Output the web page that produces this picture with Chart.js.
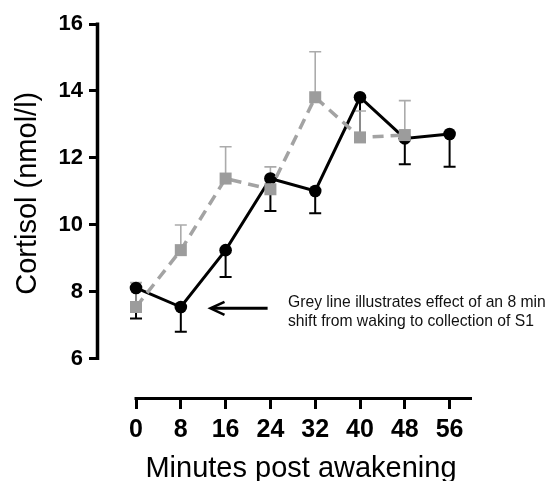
<!DOCTYPE html>
<html>
<head>
<meta charset="utf-8">
<script src="https://cdn.jsdelivr.net/npm/chart.js@4/dist/chart.umd.min.js"></script>
<style>
  html, body { margin: 0; padding: 0; background: #fff; }
  #wrap { width: 547px; height: 481px; }
</style>
</head>
<body>
<div id="wrap"><canvas id="c" width="547" height="481"></canvas></div>
<script>
// ---- data ----
const minutes = [0, 8, 16, 24, 32, 40, 48, 56];
const awakeningMean = [8.11, 7.54, 9.24, 11.38, 11.01, 13.81, 12.58, 12.71];
const awakeningSem  = [0.91, 0.74, 0.80, 0.97, 0.67, 1.20, 0.77, 0.98];
const shiftedMinutes = [0, 8, 16, 24, 32, 40, 48];
const shiftedMean = [7.54, 9.24, 11.38, 11.06, 13.81, 12.61, 12.68];
const shiftedSem  = [0.73, 0.75, 0.95, 0.67, 1.36, 0.79, 1.03];
const xTickValues = [0, 8, 16, 24, 32, 40, 48, 56];
const yTickValues = [6, 8, 10, 12, 14, 16];
const xTitle = 'Minutes post awakening';
const yTitle = 'Cortisol (nmol/l)';
const noteLines = ['Grey line illustrates effect of an 8 min', 'shift from waking to collection of S1'];

const FONT = "'Liberation Sans', Arial, Helvetica, sans-serif";
const GREY = '#a3a3a3';
const GREY_ERR = '#ababab';

const pts = (xs, ys) => xs.map((x, i) => ({ x: x, y: ys[i] }));

const decor = {
  id: 'decor',
  beforeDatasetsDraw(chart) {
    const { ctx } = chart;
    const xs = chart.scales.x, ys = chart.scales.y;
    ctx.save();
    // black error bars (downward)
    ctx.strokeStyle = '#000'; ctx.lineWidth = 2;
    minutes.forEach((m, i) => {
      const px = xs.getPixelForValue(m);
      const p0 = ys.getPixelForValue(awakeningMean[i]);
      const p1 = ys.getPixelForValue(awakeningMean[i] - awakeningSem[i]);
      ctx.beginPath(); ctx.moveTo(px, p0); ctx.lineTo(px, p1);
      ctx.moveTo(px - 6, p1); ctx.lineTo(px + 6, p1); ctx.stroke();
    });
    // grey error bars (upward)
    ctx.strokeStyle = GREY_ERR; ctx.lineWidth = 1.6;
    shiftedMinutes.forEach((m, i) => {
      const px = xs.getPixelForValue(m);
      const p0 = ys.getPixelForValue(shiftedMean[i]);
      const p1 = ys.getPixelForValue(shiftedMean[i] + shiftedSem[i]);
      ctx.beginPath(); ctx.moveTo(px, p0); ctx.lineTo(px, p1);
      ctx.moveTo(px - 6, p1); ctx.lineTo(px + 6, p1); ctx.stroke();
    });
    ctx.restore();
  },
  afterDraw(chart) {
    const { ctx, chartArea } = chart;
    const xs = chart.scales.x, ys = chart.scales.y;
    ctx.save();
    ctx.strokeStyle = '#000';
    ctx.lineCap = 'butt';
    // y axis line
    ctx.lineWidth = 3.5;
    const ax = chartArea.left - 1.5;
    ctx.beginPath();
    ctx.moveTo(ax, ys.getPixelForValue(yTickValues[yTickValues.length - 1]) - 1.5);
    ctx.lineTo(ax, ys.getPixelForValue(yTickValues[0]) + 1.5);
    ctx.stroke();
    // x axis line
    ctx.lineWidth = 3;
    const ay = chartArea.bottom + 1.5;
    ctx.beginPath();
    ctx.moveTo(xs.getPixelForValue(xTickValues[0]) - 1.5, ay);
    ctx.lineTo(xs.getPixelForValue(60), ay);
    ctx.stroke();

    // titles
    ctx.fillStyle = '#000';
    ctx.font = '29px ' + FONT;
    ctx.textAlign = 'center';
    ctx.textBaseline = 'alphabetic';
    const xc = (xs.getPixelForValue(0) + xs.getPixelForValue(60)) / 2;
    ctx.fillText(xTitle, xc - 3, 477);
    ctx.save();
    ctx.translate(36, (ys.getPixelForValue(6) + ys.getPixelForValue(16)) / 2 + 2);
    ctx.rotate(-Math.PI / 2);
    ctx.fillText(yTitle, 0, 0);
    ctx.restore();

    // annotation arrow
    const tipX = xs.getPixelForValue(13.3), tailX = xs.getPixelForValue(23.5);
    const arY = ys.getPixelForValue(7.5);
    ctx.lineWidth = 3;
    ctx.beginPath(); ctx.moveTo(tailX, arY); ctx.lineTo(tipX + 2, arY); ctx.stroke();
    ctx.lineWidth = 2.6;
    ctx.beginPath();
    ctx.moveTo(tipX + 14, arY - 6.5); ctx.lineTo(tipX, arY); ctx.lineTo(tipX + 14, arY + 6.5);
    ctx.stroke();
    // annotation text
    ctx.font = '15.7px ' + FONT;
    ctx.fillStyle = '#111';
    ctx.textAlign = 'left';
    ctx.fillText(noteLines[0], 288, 307);
    ctx.fillText(noteLines[1], 288, 326);
    ctx.restore();
  }
};

new Chart(document.getElementById('c'), {
  type: 'line',
  data: {
    datasets: [
      {
        label: 'Awakening',
        data: pts(minutes, awakeningMean),
        borderColor: '#000',
        backgroundColor: '#000',
        borderWidth: 3,
        pointStyle: 'circle',
        pointRadius: 6.3,
        pointBorderWidth: 0,
        tension: 0,
        order: 2
      },
      {
        label: 'Shifted 8 min',
        data: pts(shiftedMinutes, shiftedMean),
        borderColor: GREY,
        backgroundColor: '#9c9c9c',
        borderWidth: 3.5,
        borderDash: [11, 7],
        pointStyle: 'rect',
        pointRadius: 8.5,
        pointBorderWidth: 0,
        tension: 0,
        order: 1
      }
    ]
  },
  options: {
    responsive: false,
    animation: false,
    devicePixelRatio: 1,
    layout: { padding: { top: 24, right: 75, left: 0, bottom: 0 } },
    plugins: { legend: { display: false }, tooltip: { enabled: false } },
    scales: {
      x: {
        type: 'linear',
        min: -6.61,
        max: 60,
        afterBuildTicks: s => { s.ticks = xTickValues.map(v => ({ value: v })); },
        afterFit: s => { s.height = 84; },
        border: { display: false },
        grid: { drawOnChartArea: false, drawTicks: true, tickLength: 12, tickWidth: 3, tickColor: '#000' },
        ticks: { font: { family: FONT, size: 25, weight: 'bold' }, color: '#000', padding: 6, maxRotation: 0, autoSkip: false }
      },
      y: {
        type: 'linear',
        min: 4.85,
        max: 16,
        afterBuildTicks: s => { s.ticks = yTickValues.map(v => ({ value: v })); },
        afterFit: s => { s.width = 99; },
        border: { display: false },
        grid: { drawOnChartArea: false, drawTicks: true, tickLength: 10, tickWidth: 3, tickColor: '#000' },
        ticks: { font: { family: FONT, size: 22, weight: 'bold' }, color: '#000', padding: 6 }
      }
    }
  },
  plugins: [decor]
});
</script>
</body>
</html>
